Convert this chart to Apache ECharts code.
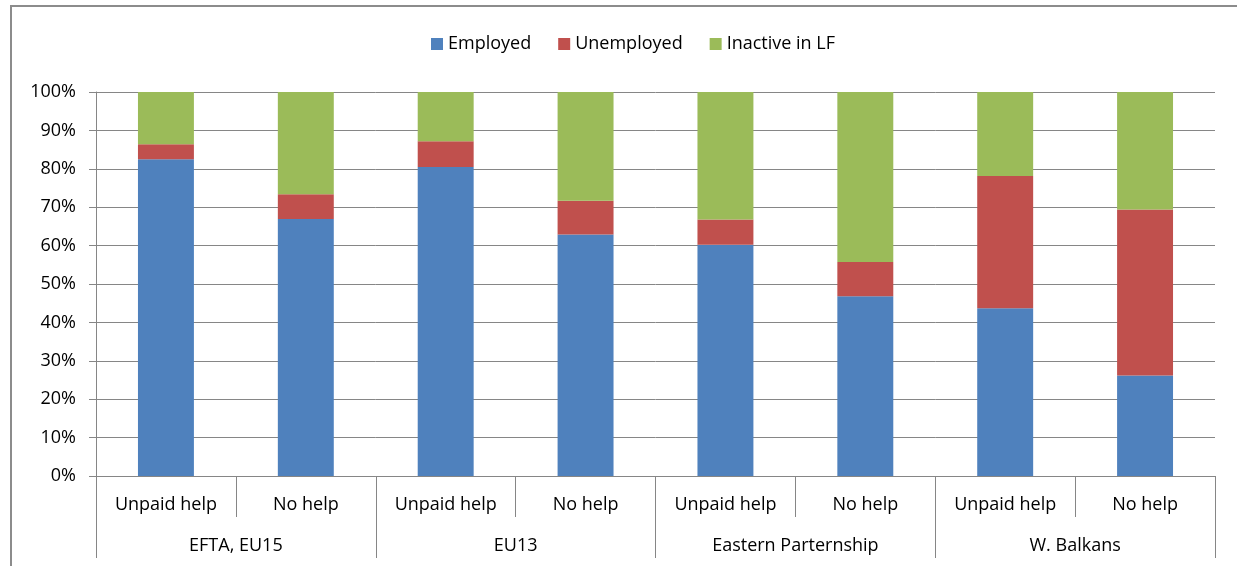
<!DOCTYPE html>
<html>
<head>
<meta charset="utf-8">
<script src="https://cdn.jsdelivr.net/npm/echarts@6/dist/echarts.min.js"></script>
<style>
html,body{margin:0;padding:0;background:#fff;}
#chart{width:1237px;height:566px;}
</style>
</head>
<body>
<div id="chart"></div>
<script>
const subCategories = ['Unpaid help','No help','Unpaid help','No help','Unpaid help','No help','Unpaid help','No help'];
const groups = ['EFTA, EU15','EU13','Eastern Parternship','W. Balkans'];
const employed   = [82.5, 66.9, 80.5, 62.9, 60.2, 46.8, 43.7, 26.2];
const unemployed = [3.9, 6.5, 6.7, 8.8, 6.6, 8.9, 34.4, 43.2];
const inactive   = [13.6, 26.6, 12.8, 28.3, 33.2, 44.3, 21.9, 30.6];
const seriesNames = ['Employed','Unemployed','Inactive in LF'];
const colors = ['#4F81BD','#C0504D','#9BBB59'];

const font = '"Open Sans", sans-serif';
const gray = '#868686';
const chart = echarts.init(document.getElementById('chart'));
const mk = (name, data, i) => ({
  name, type: 'bar', stack: 'total', data, xAxisIndex: 0,
  barWidth: '40%',
  itemStyle: { color: colors[i] },
  emphasis: { disabled: true }
});
chart.setOption({
  animation: false,
  textStyle: { fontFamily: font },
  legend: {
    left: 426, top: 30,
    itemWidth: 12, itemHeight: 12, itemGap: 27,
    icon: 'rect',
    textStyle: { fontFamily: font, fontSize: 18, color: '#000' },
    data: seriesNames
  },
  grid: { left: 96, right: 22, top: 92, bottom: 90, containLabel: false },
  yAxis: {
    type: 'value', min: 0, max: 100, interval: 10,
    axisLine: { show: true, lineStyle: { color: gray, width: 1 } },
    axisTick: { show: true, length: 7, lineStyle: { color: gray } },
    splitLine: { show: true, lineStyle: { color: gray, width: 1 } },
    axisLabel: { formatter: '{value}%', fontFamily: font, fontSize: 18, color: '#000', margin: 20 }
  },
  xAxis: [
    {
      type: 'category', data: subCategories, position: 'bottom',
      axisLine: { show: true, lineStyle: { color: gray } },
      axisTick: { show: true, interval: 0, length: 41, lineStyle: { color: gray } },
      axisLabel: { interval: 0, fontFamily: font, fontSize: 18, color: '#000', margin: 20 }
    },
    {
      type: 'category', data: groups, position: 'bottom',
      axisLine: { show: false },
      axisTick: { show: true, interval: 0, length: 82, lineStyle: { color: gray } },
      axisLabel: { interval: 0, fontFamily: font, fontSize: 18, color: '#000', margin: 61 }
    }
  ],
  graphic: [
    { type: 'line', shape: { x1: 11, y1: 5, x2: 11, y2: 566 }, style: { stroke: '#8c8c8c', lineWidth: 2 } },
    { type: 'line', shape: { x1: 10, y1: 6, x2: 1237, y2: 6 }, style: { stroke: '#8c8c8c', lineWidth: 2 } }
  ],
  series: [
    mk(seriesNames[0], employed, 0),
    mk(seriesNames[1], unemployed, 1),
    mk(seriesNames[2], inactive, 2)
  ]
});
</script>
</body>
</html>
